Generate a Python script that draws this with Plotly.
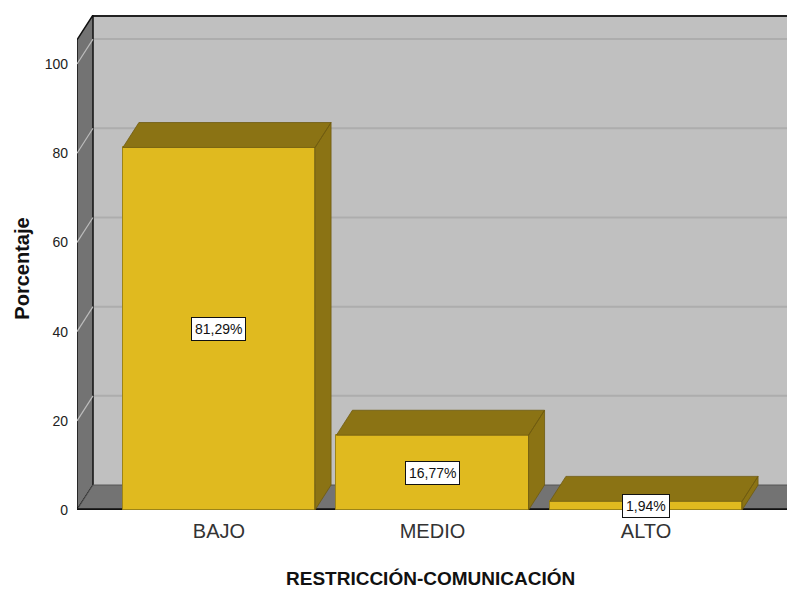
import plotly.graph_objects as go

# ---- data ----
categories = ["BAJO", "MEDIO", "ALTO"]
percentages = [81.29, 16.77, 1.94]
value_labels = ["81,29%", "16,77%", "1,94%"]
y_ticks = [0, 20, 40, 60, 80, 100]
x_title = "RESTRICCIÓN-COMUNICACIÓN"
y_title = "Porcentaje"

# ---- style constants ----
FONT = "Liberation Sans, Arial, sans-serif"
FRONT = "#E0BA1F"
DARK = "#8B7314"
WALL_DARK = "#737373"
WALL_BACK = "#C0C0C0"
BAR_W = 0.9
DX = 0.075   # depth offset, category units
DY = 5.6     # depth offset, percent units
X_LO, X_HI = -0.665, 2.665   # front plane extent
X_RANGE = [-0.665, 2.698]
Y_RANGE = [0, 111]

xs = list(range(len(categories)))

fig = go.Figure()

# front faces of bars
fig.add_trace(go.Bar(
    x=xs, y=percentages, width=BAR_W,
    marker=dict(color=FRONT, line=dict(color="#9C8418", width=1)),
    hoverinfo="skip", showlegend=False,
))

# top and side faces (3D depth), computed from the values
px, py = [], []
for x, v in zip(xs, percentages):
    xl, xr = x - BAR_W / 2, x + BAR_W / 2
    px += [xl, xl + DX, xr + DX, xr, xl, None]
    py += [v, v + DY, v + DY, v, v, None]
    px += [xr, xr + DX, xr + DX, xr, xr, None]
    py += [0, DY, v + DY, v, 0, None]
fig.add_trace(go.Scatter(
    x=px, y=py, mode="lines", fill="toself", fillcolor=DARK,
    line=dict(color="#6E5B10", width=0.8), hoverinfo="skip", showlegend=False,
))

shapes = []
shapes.append(dict(type="rect", layer="below", xref="x", yref="y",
                   x0=X_LO + DX, x1=X_HI + DX + 0.5, y0=DY, y1=Y_RANGE[1],
                   fillcolor=WALL_BACK, line=dict(width=0)))
for g in y_ticks[1:]:
    shapes.append(dict(type="line", layer="below", xref="x", yref="y",
                       x0=X_LO + DX, x1=X_HI + DX + 0.5, y0=g + DY, y1=g + DY,
                       line=dict(color="#ADADAD", width=2)))
shapes.append(dict(type="line", layer="below", xref="x", yref="y",
                   x0=X_LO + DX, x1=X_HI + DX + 0.5, y0=Y_RANGE[1] - 0.25, y1=Y_RANGE[1] - 0.25,
                   line=dict(color="#222222", width=2)))
top_front = Y_RANGE[1] - DY
shapes.append(dict(type="path", layer="below", xref="x", yref="y",
                   path=f"M {X_LO},0 L {X_LO + DX},{DY} L {X_LO + DX},{Y_RANGE[1]} L {X_LO},{top_front} Z",
                   fillcolor=WALL_DARK, line=dict(color="#111111", width=1.5)))
for g in y_ticks[1:]:
    shapes.append(dict(type="line", layer="below", xref="x", yref="y",
                       x0=X_LO, x1=X_LO + DX, y0=g, y1=g + DY,
                       line=dict(color="#BDBDBD", width=1.2)))
shapes.append(dict(type="path", layer="below", xref="x", yref="y",
                   path=f"M {X_LO},0 L {X_LO + DX},{DY} L {X_HI + DX},{DY} L {X_HI},0 Z",
                   fillcolor=WALL_DARK, line=dict(color="#555555", width=1)))
shapes.append(dict(type="line", layer="below", xref="x", yref="y",
                   x0=X_LO, x1=X_HI, y0=0.15, y1=0.15,
                   line=dict(color="#111111", width=2)))

annotations = []
for x, v, t in zip(xs, percentages, value_labels):
    annotations.append(dict(
        x=x, y=v / 2, xref="x", yref="y", text=t, showarrow=False,
        font=dict(family=FONT, size=14, color="#111111"),
        bgcolor="white", bordercolor="#111111", borderwidth=1, borderpad=3,
    ))
annotations.append(dict(
    x=0.493, y=-0.139, xref="paper", yref="paper", text=f"<b>{x_title}</b>",
    showarrow=False, xanchor="center", yanchor="middle",
    font=dict(family=FONT, size=19, color="#111111"),
))
annotations.append(dict(
    x=-0.077, y=0.487, xref="paper", yref="paper", text=f"<b>{y_title}</b>",
    showarrow=False, xanchor="center", yanchor="middle", textangle=-90,
    font=dict(family=FONT, size=20, color="#111111"),
))

fig.update_layout(
    width=795, height=592,
    margin=dict(l=69, r=8, t=7, b=90),
    paper_bgcolor="white", plot_bgcolor="white",
    shapes=shapes, annotations=annotations,
    showlegend=False, bargap=0,
    xaxis=dict(range=X_RANGE, tickvals=xs, ticktext=categories,
               showgrid=False, zeroline=False, showline=False, ticks="",
               tickfont=dict(family=FONT, size=20, color="#333333"),
               ticklabelstandoff=7, fixedrange=True),
    yaxis=dict(range=Y_RANGE, tickvals=y_ticks, showgrid=False, zeroline=False,
               showline=False, ticks="",
               tickfont=dict(family=FONT, size=14, color="#222222"),
               ticklabelstandoff=8, fixedrange=True),
)

fig.write_html("out.html")
